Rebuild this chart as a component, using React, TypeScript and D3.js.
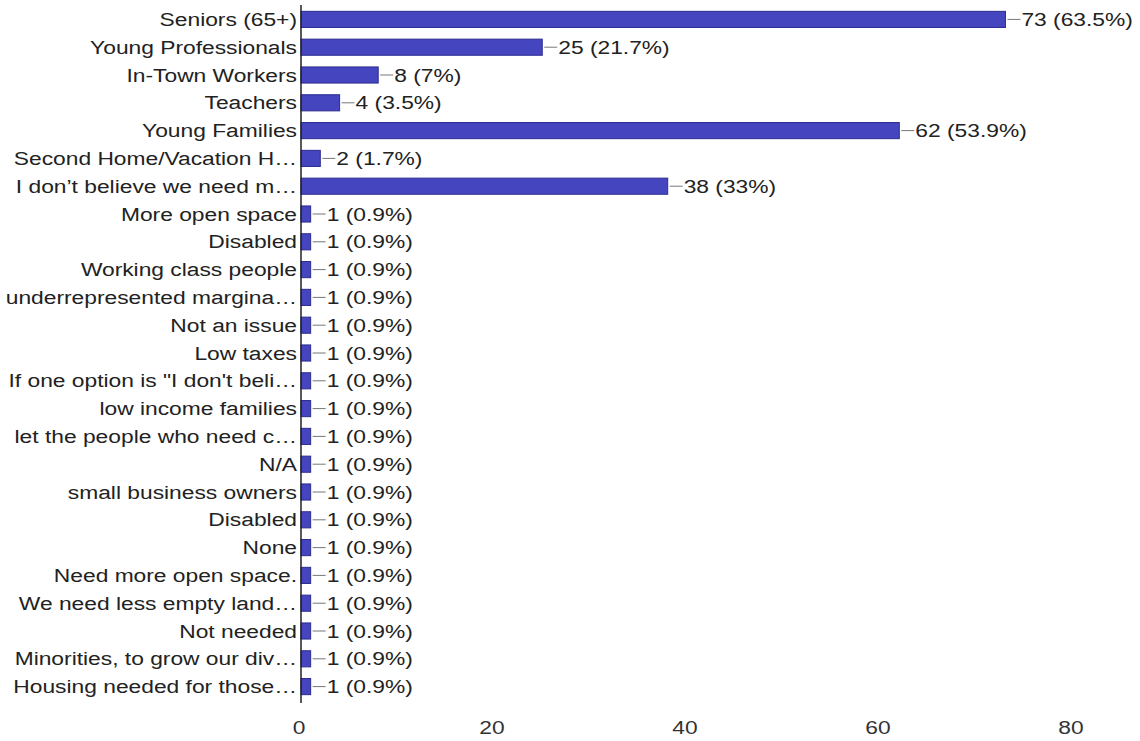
import React from "react";
import * as d3 from "d3";

// Answer options as shown on the chart (long answers are truncated with an ellipsis)
const categories: string[] = [
  "Seniors (65+)",
  "Young Professionals",
  "In-Town Workers",
  "Teachers",
  "Young Families",
  "Second Home/Vacation H…",
  "I don’t believe we need m…",
  "More open space",
  "Disabled",
  "Working class people",
  "underrepresented margina…",
  "Not an issue",
  "Low taxes",
  "If one option is \"I don't beli…",
  "low income families",
  "let the people who need c…",
  "N/A",
  "small business owners",
  "Disabled",
  "None",
  "Need more open space.",
  "We need less empty land…",
  "Not needed",
  "Minorities, to grow our div…",
  "Housing needed for those…",
];

// Response counts per option
const counts: number[] = [
  73, 25, 8, 4, 62, 2, 38, 1, 1, 1, 1, 1, 1, 1, 1, 1, 1, 1, 1, 1, 1, 1, 1, 1, 1,
];

// Total number of respondents (percentages are relative to this)
const totalResponses = 115;

const xTicks: number[] = [0, 20, 40, 60, 80];

const W = 1140;
const H = 741;
const FONT = "'Liberation Sans', Arial, sans-serif";
const FS = 19;
const STRETCH = 1.2; // text is drawn slightly wide

export default function App() {
  const x = d3.scaleLinear().domain([0, 80]).range([301, 1073]);
  const y = d3
    .scaleBand<number>()
    .domain(d3.range(categories.length))
    .range([5.5, 700.5])
    .paddingInner(0.42)
    .paddingOuter(0.21);

  const pct = (v: number) => {
    const p = Math.round((v / totalResponses) * 1000) / 10;
    return `${p}%`;
  };

  const Label = (props: {
    x: number;
    y: number;
    anchor: "start" | "middle" | "end";
    fill: string;
    children: React.ReactNode;
  }) => (
    <text
      transform={`translate(${props.x},${props.y}) scale(${STRETCH},1)`}
      dy="0.35em"
      textAnchor={props.anchor}
      fontSize={FS}
      fill={props.fill}
    >
      {props.children}
    </text>
  );

  return (
    <svg
      width={W}
      height={H}
      style={{ position: "absolute", left: 0, top: 0, background: "#fff" }}
      fontFamily={FONT}
    >
      <rect x={0} y={0} width={W} height={H} fill="#fff" />
      {categories.map((c, i) => {
        const yc = (y(i) as number) + y.bandwidth() / 2;
        const x1 = x(counts[i]);
        return (
          <g key={i}>
            <Label x={297} y={yc} anchor="end" fill="#222">
              {c}
            </Label>
            <rect
              x={x(0)}
              y={y(i) as number}
              width={x1 - x(0)}
              height={y.bandwidth()}
              fill="#4545c0"
              stroke="#2c2c90"
              strokeWidth={1}
            />
            <line
              x1={x1 + 2}
              x2={x1 + 15}
              y1={yc}
              y2={yc}
              stroke="#777"
              strokeWidth={1}
            />
            <Label x={x1 + 16} y={yc} anchor="start" fill="#222">
              {`${counts[i]} (${pct(counts[i])})`}
            </Label>
          </g>
        );
      })}
      <line x1={x(0)} x2={x(0)} y1={5} y2={703} stroke="#222" strokeWidth={1.5} />
      {xTicks.map((t) => (
        <Label key={t} x={x(t) - 2} y={727} anchor="middle" fill="#333">
          {t}
        </Label>
      ))}
    </svg>
  );
}
